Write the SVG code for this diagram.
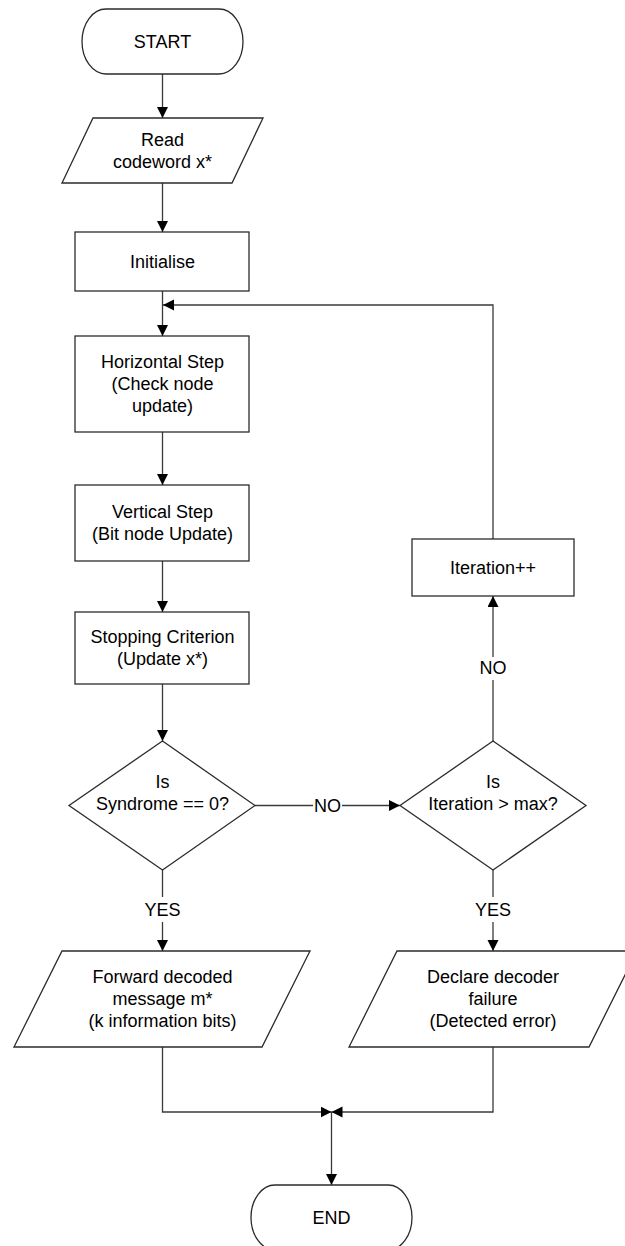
<svg xmlns="http://www.w3.org/2000/svg" width="625" height="1246" viewBox="0 0 625 1246">
  <style>
    .shape { fill: #ffffff; stroke: #2b2b2b; stroke-width: 1.3; }
    .conn { fill: none; stroke: #3a3a3a; stroke-width: 1.3; }
    .arrow { marker-end: url(#arrowhead); }
    text { font-family: "Liberation Sans", Arial, sans-serif; font-size: 18px; fill: #000000; text-anchor: middle; }
  </style>
  <defs>
    <marker id="arrowhead" markerUnits="userSpaceOnUse" markerWidth="12" markerHeight="12" refX="11" refY="5.5" orient="auto">
      <path d="M0,0 L11,5.5 L0,11 z" fill="#000000"/>
    </marker>
  </defs>

  <rect width="625" height="1246" fill="#ffffff"/>

  <!-- connectors -->
  <g id="connectors">
    <line class="conn arrow" x1="162.5" y1="74" x2="162.5" y2="118"/>
    <line class="conn arrow" x1="162.5" y1="183" x2="162.5" y2="232"/>
    <line class="conn arrow" x1="162.5" y1="291" x2="162.5" y2="336"/>
    <line class="conn arrow" x1="162.5" y1="432" x2="162.5" y2="485"/>
    <line class="conn arrow" x1="162.5" y1="561" x2="162.5" y2="612"/>
    <line class="conn arrow" x1="162.5" y1="684" x2="162.5" y2="741"/>
    <!-- loop back from Iteration++ -->
    <polyline class="conn arrow" points="493,539 493,305 163,305"/>
    <!-- NO: syndrome check to iteration check -->
    <line class="conn" x1="255" y1="805.5" x2="313" y2="805.5"/>
    <line class="conn arrow" x1="342" y1="805.5" x2="400" y2="805.5"/>
    <text x="327.5" y="811.5">NO</text>
    <!-- NO: iteration check up to Iteration++ -->
    <line class="conn" x1="493" y1="741" x2="493" y2="680"/>
    <line class="conn arrow" x1="493" y1="657" x2="493" y2="596"/>
    <text x="493" y="674">NO</text>
    <!-- YES branches -->
    <line class="conn" x1="162.5" y1="870" x2="162.5" y2="897"/>
    <line class="conn arrow" x1="162.5" y1="922" x2="162.5" y2="951"/>
    <text x="162.5" y="916">YES</text>
    <line class="conn" x1="493" y1="870" x2="493" y2="897"/>
    <line class="conn arrow" x1="493" y1="922" x2="493" y2="951"/>
    <text x="493" y="916">YES</text>
    <!-- merge into END -->
    <polyline class="conn arrow" points="162.5,1047 162.5,1112 331.5,1112"/>
    <polyline class="conn arrow" points="493,1047 493,1112 331.5,1112"/>
    <line class="conn arrow" x1="331.5" y1="1112" x2="331.5" y2="1185"/>
  </g>

  <g id="start">
    <rect class="shape" x="82" y="9" width="161" height="65" rx="24" ry="32.5"/>
    <text x="162.5" y="48">START</text>
  </g>

  <g id="read-codeword">
    <polygon class="shape" points="93,118 263,118 232,183 62,183"/>
    <text x="162.5" y="146">Read</text>
    <text x="162.5" y="168">codeword x*</text>
  </g>

  <g id="initialise">
    <rect class="shape" x="75" y="232" width="174" height="59"/>
    <text x="162.5" y="268">Initialise</text>
  </g>

  <g id="horizontal-step">
    <rect class="shape" x="75" y="336" width="174" height="96"/>
    <text x="162.5" y="368">Horizontal Step</text>
    <text x="162.5" y="390">(Check node</text>
    <text x="162.5" y="412">update)</text>
  </g>

  <g id="vertical-step">
    <rect class="shape" x="75" y="485" width="174" height="76"/>
    <text x="162.5" y="518">Vertical Step</text>
    <text x="162.5" y="540">(Bit node Update)</text>
  </g>

  <g id="stopping-criterion">
    <rect class="shape" x="75" y="612" width="174" height="72"/>
    <text x="162.5" y="643">Stopping Criterion</text>
    <text x="162.5" y="665">(Update x*)</text>
  </g>

  <g id="syndrome-check">
    <polygon class="shape" points="162.5,741 255,805.5 162.5,870 69,805.5"/>
    <text x="162.5" y="788">Is</text>
    <text x="162.5" y="810">Syndrome == 0?</text>
  </g>

  <g id="iteration-check">
    <polygon class="shape" points="493,741 586,805.5 493,870 400,805.5"/>
    <text x="493" y="788">Is</text>
    <text x="493" y="810">Iteration &gt; max?</text>
  </g>

  <g id="iteration-increment">
    <rect class="shape" x="412" y="539" width="162" height="57"/>
    <text x="493" y="574">Iteration++</text>
  </g>

  <g id="forward-message">
    <polygon class="shape" points="62,951 310,951 262,1047 14,1047"/>
    <text x="162.5" y="983">Forward decoded</text>
    <text x="162.5" y="1005">message m*</text>
    <text x="162.5" y="1027">(k information bits)</text>
  </g>

  <g id="decoder-failure">
    <polygon class="shape" points="397,951 637,951 589,1047 349,1047"/>
    <text x="493" y="983">Declare decoder</text>
    <text x="493" y="1005">failure</text>
    <text x="493" y="1027">(Detected error)</text>
  </g>

  <g id="end">
    <rect class="shape" x="251" y="1185" width="161" height="65" rx="24" ry="32.5"/>
    <text x="331.5" y="1224">END</text>
  </g>
</svg>
